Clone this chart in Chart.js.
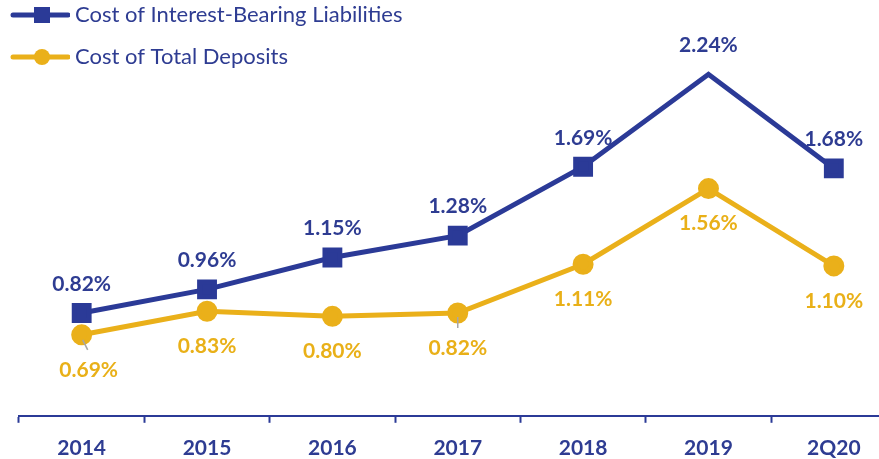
<!DOCTYPE html>
<html><head><meta charset="utf-8">
<script src="https://cdn.jsdelivr.net/npm/chart.js@4/dist/chart.umd.min.js"></script>
<style>html,body{margin:0;padding:0;overflow:hidden;background:#fff}#wrap{width:879px;height:459px;overflow:hidden}</style>
</head><body><div id="wrap"><canvas id="c" width="912" height="474"></canvas></div>
<script>
const categories = ['2014','2015','2016','2017','2018','2019','2Q20'];
const interestBearing = [0.82,0.96,1.15,1.28,1.69,2.24,1.68];
const totalDeposits = [0.69,0.83,0.80,0.82,1.11,1.56,1.10];
const seriesNames = ['Cost of Interest-Bearing Liabilities','Cost of Total Deposits'];

const BLUE = '#2B3A97', YELLOW = '#EAB01A', TXTBLUE = '#2E3C92', TXTYEL = '#E9B018';

function legendIcon(color, square){
  const c = document.createElement('canvas'); c.width = 60; c.height = 16;
  const g = c.getContext('2d');
  g.strokeStyle = color; g.lineWidth = 5; g.lineCap = 'round';
  g.beginPath(); g.moveTo(3,8); g.lineTo(58,8); g.stroke();
  g.fillStyle = color;
  if (square) g.fillRect(24,0,16,16); else { g.beginPath(); g.arc(32,8,8,0,Math.PI*2); g.fill(); }
  return c;
}

// stack legend items on separate rows at the top-left
const legendWrap = {
  id:'legendWrap',
  beforeLayout(chart){
    const lg = chart.legend;
    if (lg && !lg._wrapped){
      const orig = lg.update.bind(lg);
      lg.update = function(mw, mh, margins){ return orig(Math.min(mw, 440), mh, margins); };
      lg._wrapped = true;
    }
  },
  afterLayout(chart){
    const lg = chart.legend;
    if (!lg) return;
    const h = lg.height;
    lg.left = -4; lg.right = 436; lg.width = 440;
    lg.top = -16; lg.bottom = -16 + h;
  }
};

const labelPlugin = {
  id:'vals',
  afterDatasetsDraw(chart){
    const ctx = chart.ctx;
    ctx.save();
    ctx.font = 'bold 21px Lato';
    ctx.textAlign = 'center'; ctx.textBaseline = 'middle';
    const m0 = chart.getDatasetMeta(0), m1 = chart.getDatasetMeta(1);
    m0.data.forEach((p,i)=>{
      ctx.fillStyle = TXTBLUE;
      ctx.fillText(interestBearing[i].toFixed(2)+'%', p.x, p.y-29);
    });
    m1.data.forEach((p,i)=>{
      let dx = 0;
      if (i===0){
        dx = 7;
        ctx.strokeStyle='#A6A6A6'; ctx.lineWidth=1.5;
        ctx.beginPath(); ctx.moveTo(p.x+1,p.y+5); ctx.lineTo(p.x+6,p.y+15); ctx.stroke();
      }
      if (i===3){
        ctx.strokeStyle='#A6A6A6'; ctx.lineWidth=1.5;
        ctx.beginPath(); ctx.moveTo(p.x,p.y+4); ctx.lineTo(p.x,p.y+15); ctx.stroke();
      }
      ctx.fillStyle = TXTYEL;
      ctx.fillText(totalDeposits[i].toFixed(2)+'%', p.x+dx, p.y+35);
    });
    ctx.restore();
  }
};

new Chart(document.getElementById('c'), {
  type:'line',
  data:{
    labels: categories,
    datasets:[
      {label: seriesNames[0], data: interestBearing, borderColor: BLUE, backgroundColor: BLUE, borderWidth: 5,
       pointStyle:'rect', pointRadius: 10.5, pointHoverRadius: 10.5, tension: 0, clip:false},
      {label: seriesNames[1], data: totalDeposits, borderColor: YELLOW, backgroundColor: YELLOW, borderWidth: 5,
       pointStyle:'circle', pointRadius: 8, pointHoverRadius: 8, tension: 0, clip:false}
    ]
  },
  options:{
    responsive:false, animation:false, devicePixelRatio:1,
    layout:{padding:{left:19,right:0,top:0,bottom:0}},
    plugins:{
      tooltip:{enabled:false},
      legend:{
        position:'top', align:'start',
        labels:{
          usePointStyle:true, pointStyleWidth:48,
          font:{family:'Lato', size:22},
          color: TXTBLUE, padding: 20,
          generateLabels(chart){
            return chart.data.datasets.map((d,i)=>({
              text: d.label, pointStyle: legendIcon(d.borderColor, i===0),
              fillStyle: d.borderColor, strokeStyle: d.borderColor, lineWidth:0,
              fontColor: TXTBLUE, datasetIndex:i, hidden:false
            }));
          }
        }
      }
    },
    scales:{
      x:{
        offset:true,
        grid:{display:true, offset:true, drawOnChartArea:false, tickLength:7, tickColor: BLUE, tickWidth:2},
        border:{display:true, color: BLUE, width:2},
        ticks:{color: TXTBLUE, font:{family:'Lato', size:21, weight:'bold'}, padding:13}
      },
      y:{display:false, min:0.208, max:2.123}
    }
  },
  plugins:[legendWrap, labelPlugin]
});
</script></body></html>
